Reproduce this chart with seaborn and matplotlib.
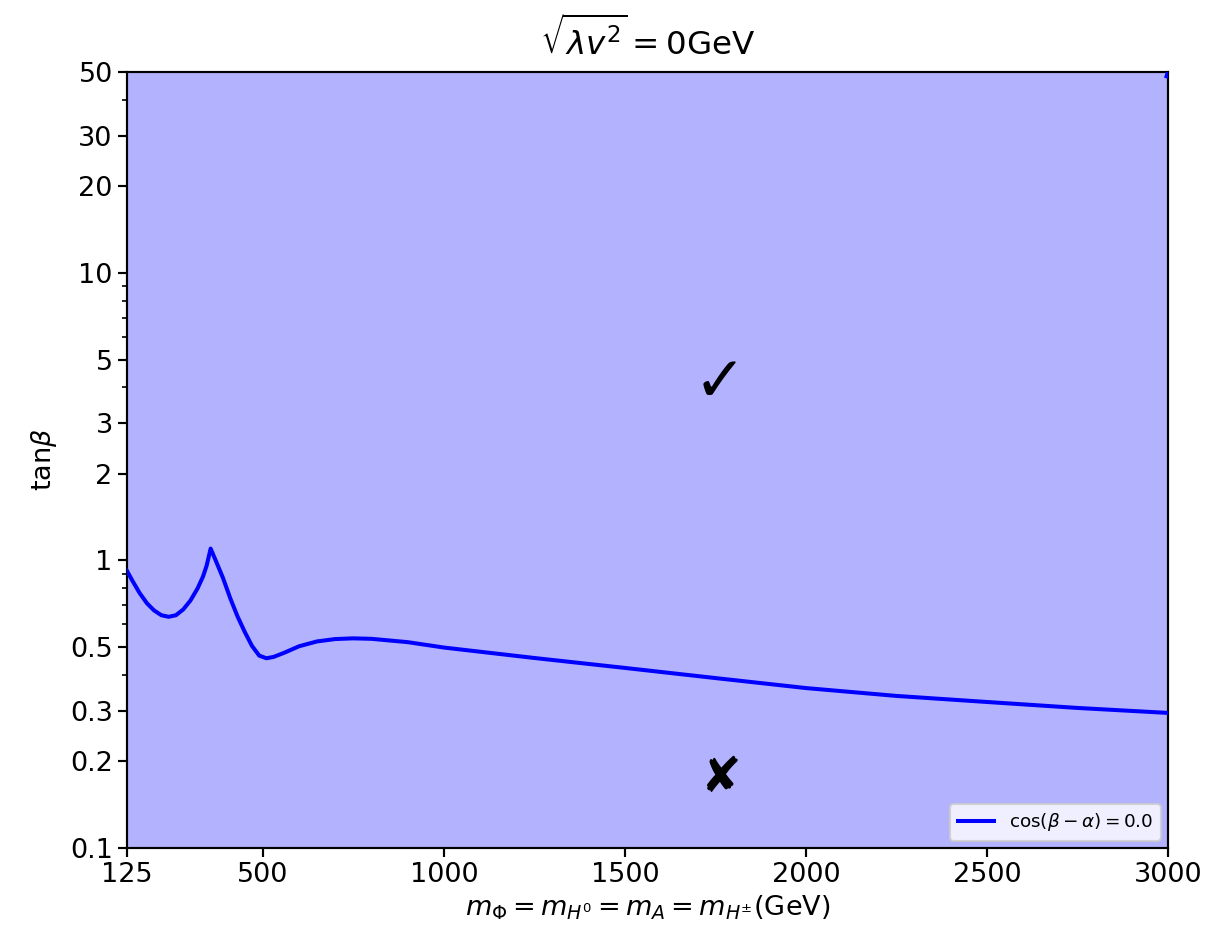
import numpy as np
import pandas as pd
import matplotlib
matplotlib.use("Agg")
import matplotlib.pyplot as plt
import seaborn as sns

# Data
mass = [125, 140, 160, 180, 200, 220, 240, 260, 280, 300, 320, 335, 345, 356, 370, 390, 410, 430, 450,
        470, 490, 510, 530, 560, 600, 650, 700, 750, 800, 900, 1000, 1250, 1500, 1750, 2000, 2250,
        2500, 2750, 3000]
tanb = [0.92, 0.85, 0.77, 0.71, 0.67, 0.645, 0.637, 0.645, 0.675, 0.725, 0.80, 0.88, 0.96, 1.10, 1.0,
        0.87, 0.74, 0.64, 0.565, 0.505, 0.467, 0.457, 0.462, 0.478, 0.503, 0.523, 0.533, 0.536, 0.534,
        0.52, 0.498, 0.458, 0.423, 0.39, 0.36, 0.338, 0.322, 0.307, 0.295]
corner_mass = [2996, 3000]
corner_tanb = [48.3, 50.0]

xticks = [125, 500, 1000, 1500, 2000, 2500, 3000]
yticks = [0.1, 0.2, 0.3, 0.5, 1, 2, 3, 5, 10, 20, 30, 50]
ytick_labels = ["0.1", "0.2", "0.3", "0.5", "1", "2", "3", "5", "10", "20", "30", "50"]
legend_label = r"$\cos(\beta-\alpha)=0.0$"

plt.rcParams['font.family'] = ['DejaVu Sans']
plt.rcParams['mathtext.fontset'] = 'dejavusans'

W, H = 1211, 939
fig = plt.figure(figsize=(W / 100, H / 100), dpi=100)
ax = fig.add_axes([127 / W, 1 - 848 / H, (1168 - 127) / W, (848 - 72) / H])

ax.set_xlim(125, 3000)
ax.set_yscale("log")
ax.set_ylim(0.1, 50)

# whole region allowed: light blue fill
ax.fill_between([125, 3000], [0.1, 0.1], [50, 50], color="blue", alpha=0.3, linewidth=0, zorder=0)

df = pd.DataFrame({"m": mass, "t": tanb})
sns.lineplot(data=df, x="m", y="t", ax=ax, color="blue", linewidth=2.9, label=legend_label,
             sort=False, zorder=3)
dfc = pd.DataFrame({"m": corner_mass, "t": corner_tanb})
sns.lineplot(data=dfc, x="m", y="t", ax=ax, color="blue", linewidth=2.9, sort=False, zorder=3)

ax.text(1763, 4.1, "\u2713", fontsize=45, fontweight="bold", ha="center", va="center", color="black")
ax.text(1763, 0.175, "\u2718", fontsize=35, ha="center", va="center", color="black")

ax.set_xticks(xticks)
ax.set_xticklabels([str(v) for v in xticks])
ax.set_yticks(yticks)
ax.set_yticklabels(ytick_labels)
ax.yaxis.set_minor_formatter(matplotlib.ticker.NullFormatter())

ax.tick_params(axis="both", which="major", labelsize=19.5, length=6.8, width=1.56, direction="out",
               colors="black")
ax.tick_params(axis="y", which="minor", length=3.9, width=1.2)
for s in ax.spines.values():
    s.set_linewidth(1.56)
    s.set_color("black")

ax.set_xlabel(r"$m_{\Phi}=m_{H^0}=m_A=m_{H^{\pm}}$(GeV)", fontsize=19.5, labelpad=4)
ax.set_ylabel(r"tan$\beta$", fontsize=19.5, labelpad=8)
ax.set_title(r"$\sqrt{\lambda v^2}=0$GeV", fontsize=23.4, pad=12)

leg = ax.legend(loc="lower right", fontsize=13.2, frameon=True, fancybox=True, framealpha=0.8,
                handlelength=2.0, borderaxespad=0.4)
leg.get_frame().set_edgecolor("#cccccc")
leg.get_frame().set_linewidth(1.56)

fig.savefig("out.png", dpi=100)
